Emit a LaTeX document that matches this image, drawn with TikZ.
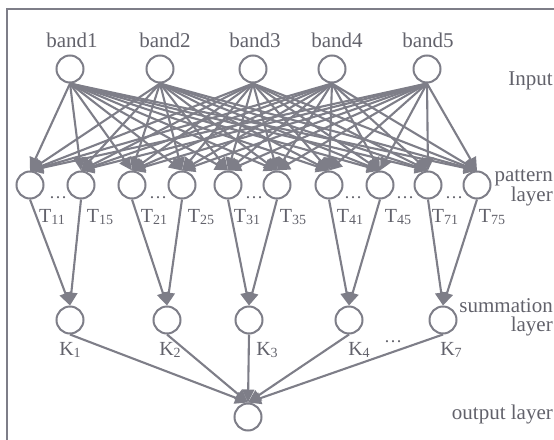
\documentclass[tikz,border=0pt]{standalone}
\usepackage{fontspec}
\setmainfont{Liberation Serif}
\usetikzlibrary{arrows.meta}
\definecolor{lc}{HTML}{7E7E88}
\definecolor{tc}{HTML}{62626B}
\newcommand{\sbs}[1]{\raisebox{-2.5pt}{\fontsize{14}{15}\selectfont #1}}
\begin{document}
\begin{tikzpicture}[x=1pt,y=-1pt,
  neuron/.style={circle,draw=lc,line width=2pt,minimum size=27pt,inner sep=0pt,fill=white},
  lab/.style={text=tc,font=\fontsize{21}{24}\selectfont,inner sep=0pt,anchor=base},
  rlab/.style={text=tc,font=\fontsize{21}{24}\selectfont,inner sep=0pt,anchor=base east},
  tlab/.style={text=tc,font=\fontsize{20}{22}\selectfont,inner sep=0pt,anchor=base},
  dts/.style={text=tc,font=\fontsize{18}{20}\selectfont,inner sep=0pt,anchor=base},
  conn/.style={draw=lc,line width=2.1pt,-{Triangle[length=13pt,width=12pt]}},
  frameline/.style={draw=lc,line width=1.8pt}]
\useasboundingbox (0,0) rectangle (554,439);
\draw[frameline] (7,9) rectangle (570,450);
% input layer
\foreach \i/\x in {1/70,2/160,3/253,4/332,5/427}
  \node[neuron] (b\i) at (\x,69) {};
\foreach \i/\x in {1/72,2/165,3/255,4/337,5/428}
  \node[lab] (bl\i) at (\x,47) {band\i};
% pattern layer
\foreach \i/\x in {1/30,2/81,3/132,4/182,5/228,6/277,7/329,8/380,9/428,10/477}
  \node[neuron] (p\i) at (\x,185) {};
% summation layer
\foreach \i/\x in {1/70,2/167,3/249,4/349,5/443}
  \node[neuron] (k\i) at (\x,320) {};
% output
\node[neuron] (o) at (248,417) {};
% connections input -> pattern
\foreach \i in {1,...,5}
  \foreach \j in {1,...,10}
    \draw[conn] (b\i.south) -- (p\j.north);
% pattern -> summation
\foreach \j/\k in {1/1,2/1,3/2,4/2,5/3,6/3,7/4,8/4,9/5,10/5}
  \draw[conn] (p\j.south) -- (k\k.north);
% summation -> output
\foreach \k in {1,...,5}
  \draw[conn] (k\k.south) -- (o.north);
% T labels
\node[tlab] (t11) at (52,222) {T\sbs{11}};
\node[tlab] (t15) at (100,222) {T\sbs{15}};
\node[tlab] (t21) at (154,222) {T\sbs{21}};
\node[tlab] (t25) at (201,222) {T\sbs{25}};
\node[tlab] (t31) at (247,222) {T\sbs{31}};
\node[tlab] (t35) at (293,222) {T\sbs{35}};
\node[tlab] (t41) at (350,222) {T\sbs{41}};
\node[tlab] (t45) at (398,222) {T\sbs{45}};
\node[tlab] (t71) at (445,222) {T\sbs{71}};
\node[tlab] (t75) at (492,222) {T\sbs{75}};
% dots
\foreach \n/\x in {1/58,2/158,3/254,4/353,5/405,6/454}
  \node[dts] (d\n) at (\x,198) {\ldots};
\node[dts] (dk) at (393,342) {\ldots};
% K labels
\node[tlab] (kl1) at (70,355) {K\sbs{1}};
\node[tlab] (kl2) at (170,355) {K\sbs{2}};
\node[tlab] (kl3) at (267,355) {K\sbs{3}};
\node[tlab] (kl4) at (359,355) {K\sbs{4}};
\node[tlab] (kl7) at (451,355) {K\sbs{7}};
% layer names
\node[rlab] (inlab) at (553,85) {Input};
\node[rlab] (patlab) at (553,181) {pattern};
\node[rlab] (patlab2) at (553,201) {layer};
\node[rlab] (sumlab) at (553,312) {summation};
\node[rlab] (sumlab2) at (553,331) {layer};
\node[rlab] (outlab) at (553,419) {output layer};
\end{tikzpicture}
\end{document}
